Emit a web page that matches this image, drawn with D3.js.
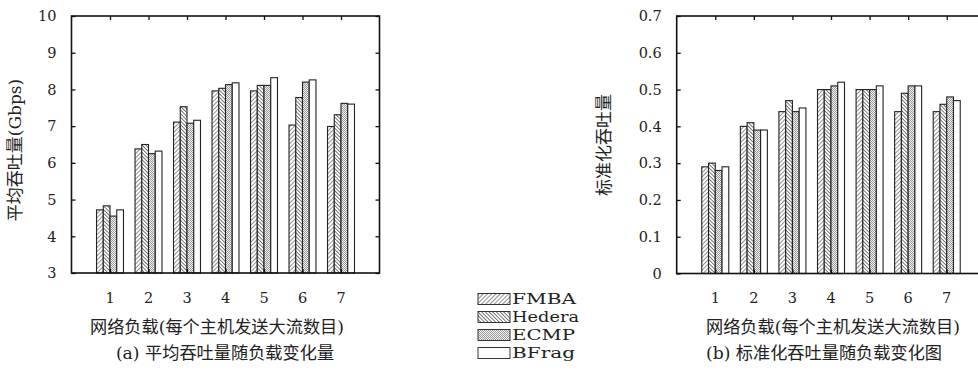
<!DOCTYPE html>
<html><head><meta charset="utf-8">
<script src="https://cdn.jsdelivr.net/npm/d3@7/dist/d3.min.js"></script>
<style>body{margin:0;background:#fff}svg{display:block}</style></head>
<body><svg id="c" width="978" height="370"></svg>
<script>
const categories = [1, 2, 3, 4, 5, 6, 7];
const seriesNames = ["FMBA", "Hedera", "ECMP", "BFrag"];
// (a) average throughput (Gbps)
const avgFMBA   = [4.72, 6.38, 7.11, 7.96, 7.96, 7.03, 6.99];
const avgHedera = [4.83, 6.50, 7.53, 8.03, 8.11, 7.78, 7.31];
const avgECMP   = [4.55, 6.25, 7.08, 8.13, 8.11, 8.20, 7.62];
const avgBFrag  = [4.72, 6.32, 7.16, 8.18, 8.32, 8.26, 7.60];
// (b) normalized throughput
const normFMBA   = [0.29, 0.40, 0.44, 0.50, 0.50, 0.44, 0.44];
const normHedera = [0.30, 0.41, 0.47, 0.50, 0.50, 0.49, 0.46];
const normECMP   = [0.28, 0.39, 0.44, 0.51, 0.50, 0.51, 0.48];
const normBFrag  = [0.29, 0.39, 0.45, 0.52, 0.51, 0.51, 0.47];
const ticksA = [3, 4, 5, 6, 7, 8, 9, 10];
const tickLabelsA = ["3","4","5","6","7","8","9","10"];
const ticksB = [0, 0.1, 0.2, 0.3, 0.4, 0.5, 0.6, 0.7];
const tickLabelsB = ["0","0.1","0.2","0.3","0.4","0.5","0.6","0.7"];
const xLabel = "网络负载(每个主机发送大流数目)";
const yLabelA = "平均吞吐量(Gbps)";
const yLabelB = "标准化吞吐量";
const captionA = "(a) 平均吞吐量随负载变化量";
const captionB = "(b) 标准化吞吐量随负载变化图";

const svg = d3.select("#c");
const FONT = "'DejaVu Serif', 'Noto Sans CJK SC', serif";
const defs = svg.append("defs");
// patterns
const pF = defs.append("pattern").attr("id","pFMBA").attr("patternUnits","userSpaceOnUse")
  .attr("width",3).attr("height",3).attr("patternTransform","rotate(45)");
pF.append("rect").attr("width",3).attr("height",3).attr("fill","#fff");
pF.append("line").attr("x1",0).attr("y1",0).attr("x2",0).attr("y2",3).attr("stroke","#555").attr("stroke-width",1.3);
const pH = defs.append("pattern").attr("id","pHedera").attr("patternUnits","userSpaceOnUse")
  .attr("width",2.6).attr("height",2.6).attr("patternTransform","rotate(-45)");
pH.append("rect").attr("width",2.6).attr("height",2.6).attr("fill","#fff");
pH.append("line").attr("x1",0).attr("y1",0).attr("x2",0).attr("y2",2.6).attr("stroke","#333").attr("stroke-width",1.3);
const pE = defs.append("pattern").attr("id","pECMP").attr("patternUnits","userSpaceOnUse")
  .attr("width",2).attr("height",2);
pE.append("rect").attr("width",2).attr("height",2).attr("fill","#f2f2f2");
pE.append("rect").attr("width",1).attr("height",1).attr("fill","#9a9a9a");
pE.append("rect").attr("x",1).attr("y",1).attr("width",1).attr("height",1).attr("fill","#9a9a9a");
const fills = {FMBA:"url(#pFMBA)", Hedera:"url(#pHedera)", ECMP:"url(#pECMP)", BFrag:"#fff"};

function panel(cfg){
  const g = svg.append("g");
  const x = d3.scaleLinear().domain([0, 8]).range([cfg.left, cfg.right]);
  const y = d3.scaleLinear().domain(cfg.ydomain).range([cfg.bottom, cfg.top]);
  const step = x(1) - x(0);
  const x1 = d3.scaleBand().domain(seriesNames).range([-step*0.35, step*0.35]).padding(0);
  categories.forEach((c, i) => {
    seriesNames.forEach((s, j) => {
      const v = cfg.data[j][i];
      g.append("rect")
        .attr("x", x(c) + x1(s)).attr("y", y(v))
        .attr("width", x1.bandwidth()).attr("height", y(cfg.ydomain[0]) - y(v))
        .attr("fill", fills[s]).attr("stroke", "#222").attr("stroke-width", 1.1);
    });
  });
  const axL = g.append("g").attr("transform", `translate(${cfg.left},0)`)
    .call(d3.axisRight(y).tickValues(cfg.yticks).tickSize(4).tickFormat(""));
  const axR = g.append("g").attr("transform", `translate(${cfg.right},0)`)
    .call(d3.axisLeft(y).tickValues(cfg.yticks).tickSize(4).tickFormat(""));
  const axB = g.append("g").attr("transform", `translate(0,${cfg.bottom})`)
    .call(d3.axisTop(x).tickValues(categories).tickSize(4).tickFormat(""));
  const axT = g.append("g").attr("transform", `translate(0,${cfg.top})`)
    .call(d3.axisBottom(x).tickValues(categories).tickSize(4).tickFormat(""));
  [axL, axR, axB, axT].forEach(a => {
    a.select(".domain").remove();
    a.selectAll("line").attr("stroke", "#111").attr("stroke-width", 1.3);
  });
  g.append("rect").attr("x", cfg.left).attr("y", cfg.top)
    .attr("width", cfg.right - cfg.left).attr("height", cfg.bottom - cfg.top)
    .attr("fill", "none").attr("stroke", "#111").attr("stroke-width", 1.6);
  g.selectAll(".yl").data(cfg.yticks).enter().append("text")
    .attr("x", cfg.left - 15).attr("y", d => y(d)).attr("dy", "0.36em")
    .attr("text-anchor", "end").attr("font-family", FONT).attr("font-size", 14.5)
    .attr("fill", "#222").text((d, i) => cfg.yticklabels[i]);
  g.selectAll(".xl").data(categories).enter().append("text")
    .attr("x", d => x(d)).attr("y", 303)
    .attr("text-anchor", "middle").attr("font-family", FONT).attr("font-size", 14.5)
    .attr("fill", "#222").text(d => d);
  g.append("text").attr("x", cfg.xlabelX).attr("y", 333).attr("text-anchor", "middle")
    .attr("font-family", FONT).attr("font-size", 17.2).attr("fill", "#222").text(xLabel);
  g.append("text").attr("x", cfg.captionX).attr("y", 359).attr("text-anchor", "middle")
    .attr("font-family", FONT).attr("font-size", 17.2).attr("fill", "#222").text(cfg.caption);
  g.append("text").attr("transform", `translate(${cfg.ylabelX},${cfg.ylabelY}) rotate(-90)`)
    .attr("text-anchor", "middle").attr("dy", "0.36em")
    .attr("font-family", FONT).attr("font-size", 17).attr("fill", "#222").text(cfg.ylabel);
}

panel({left: 71.5, right: 379.5, top: 16, bottom: 273, ydomain: [3, 10],
  yticks: ticksA, yticklabels: tickLabelsA,
  data: [avgFMBA, avgHedera, avgECMP, avgBFrag],
  ylabel: yLabelA, ylabelX: 15, ylabelY: 150,
  caption: captionA, xlabelX: 217, captionX: 225});
panel({left: 676.7, right: 985.3, top: 16, bottom: 273.5, ydomain: [0, 0.7],
  yticks: ticksB, yticklabels: tickLabelsB,
  data: [normFMBA, normHedera, normECMP, normBFrag],
  ylabel: yLabelB, ylabelX: 604, ylabelY: 145,
  caption: captionB, xlabelX: 833, captionX: 824});

// legend
const leg = svg.append("g");
const ly = d3.scalePoint().domain(seriesNames).range([299, 353]);
const legWidths = {FMBA: 64, Hedera: 67, ECMP: 63, BFrag: 63};
seriesNames.forEach(s => {
  leg.append("rect").attr("x", 478).attr("y", ly(s) - 5.5).attr("width", 32).attr("height", 11)
    .attr("fill", fills[s]).attr("stroke", "#333").attr("stroke-width", 1);
  leg.append("text").attr("x", 512).attr("y", ly(s)).attr("dy", "0.36em")
    .attr("font-family", FONT).attr("font-size", 15).attr("fill", "#222")
    .attr("textLength", legWidths[s]).attr("lengthAdjust", "spacingAndGlyphs").text(s);
});
</script></body></html>
